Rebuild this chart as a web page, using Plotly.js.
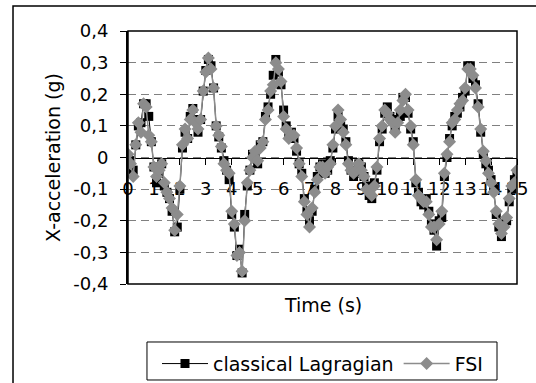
<!DOCTYPE html>
<html>
<head>
<meta charset="utf-8">
<script src="https://cdn.plot.ly/plotly-3.0.1.min.js"></script>
<style>
  html, body { margin: 0; padding: 0; background: #ffffff; }
  #chart { width: 536px; height: 383px; }
</style>
</head>
<body>
<div id="chart"></div>
<script>
// Time (s)
var time = [
  0.0, 0.1, 0.2, 0.3, 0.4, 0.5, 0.6, 0.7, 0.8, 0.9,
  1.0, 1.1, 1.2, 1.3, 1.4, 1.5, 1.6, 1.7, 1.8, 1.9,
  2.0, 2.1, 2.2, 2.3, 2.4, 2.5, 2.6, 2.7, 2.8, 2.9,
  3.0, 3.1, 3.2, 3.3, 3.4, 3.5, 3.6, 3.7, 3.8, 3.9,
  4.0, 4.1, 4.2, 4.3, 4.4, 4.5, 4.6, 4.7, 4.8, 4.9,
  5.0, 5.1, 5.2, 5.3, 5.4, 5.5, 5.6, 5.7, 5.8, 5.9,
  6.0, 6.1, 6.2, 6.3, 6.4, 6.5, 6.6, 6.7, 6.8, 6.9,
  7.0, 7.1, 7.2, 7.3, 7.4, 7.5, 7.6, 7.7, 7.8, 7.9,
  8.0, 8.1, 8.2, 8.3, 8.4, 8.5, 8.6, 8.7, 8.8, 8.9,
  9.0, 9.1, 9.2, 9.3, 9.4, 9.5, 9.6, 9.7, 9.8, 9.9,
  10.0, 10.1, 10.2, 10.3, 10.4, 10.5, 10.6, 10.7, 10.8, 10.9,
  11.0, 11.1, 11.2, 11.3, 11.4, 11.5, 11.6, 11.7, 11.8, 11.9,
  12.0, 12.1, 12.2, 12.3, 12.4, 12.5, 12.6, 12.7, 12.8, 12.9,
  13.0, 13.1, 13.2, 13.3, 13.4, 13.5, 13.6, 13.7, 13.8, 13.9,
  14.0, 14.1, 14.2, 14.3, 14.4, 14.5, 14.6, 14.7, 14.8, 14.9,
  15.0
];

// X-acceleration (g), classical Lagragian
var classical = [
  0.00, -0.01, -0.04, 0.04, 0.10, 0.11, 0.17, 0.17, 0.13, 0.05,
  -0.03, -0.08, -0.05, -0.02, -0.09, -0.11, -0.13, -0.17, -0.235, -0.22,
  -0.10, 0.03, 0.08, 0.06, 0.13, 0.155, 0.12, 0.08, 0.12, 0.21,
  0.275, 0.31, 0.29, 0.22, 0.10, 0.065, 0.03, -0.01, -0.04, -0.07,
  -0.18, -0.22, -0.31, -0.29, -0.365, -0.18, -0.09, -0.04, 0.01, 0.01,
  -0.02, 0.04, 0.05, 0.13, 0.16, 0.20, 0.26, 0.31, 0.27, 0.23,
  0.15, 0.10, 0.07, 0.08, 0.06, 0.02, -0.02, -0.05, -0.13, -0.17,
  -0.20, -0.17, -0.10, -0.06, -0.03, -0.02, -0.05, -0.04, -0.01, 0.03,
  0.09, 0.13, 0.10, 0.09, 0.05, -0.01, -0.04, -0.06, -0.05, -0.02,
  -0.03, -0.06, -0.09, -0.12, -0.13, -0.08, -0.04, 0.05, 0.09, 0.14,
  0.16, 0.13, 0.12, 0.09, 0.12, 0.13, 0.19, 0.19, 0.14, 0.09,
  0.05, -0.08, -0.11, -0.14, -0.15, -0.13, -0.17, -0.21, -0.23, -0.28,
  -0.20, -0.19, -0.06, 0.00, 0.06, 0.10, 0.13, 0.14, 0.16, 0.19,
  0.21, 0.29, 0.29, 0.25, 0.23, 0.17, 0.08, 0.01, -0.02, -0.04,
  -0.07, -0.10, -0.18, -0.22, -0.25, -0.21, -0.20, -0.14, -0.10, -0.07,
  -0.06
];

// X-acceleration (g), FSI
var fsi = [
  0.01, -0.02, -0.06, 0.04, 0.11, 0.08, 0.17, 0.16, 0.07, 0.05,
  -0.03, -0.06, -0.04, -0.02, -0.08, -0.11, -0.13, -0.16, -0.23, -0.18,
  -0.09, 0.04, 0.09, 0.06, 0.12, 0.15, 0.11, 0.09, 0.12, 0.21,
  0.27, 0.315, 0.28, 0.22, 0.10, 0.07, 0.035, -0.02, -0.04, -0.05,
  -0.17, -0.21, -0.31, -0.30, -0.36, -0.20, -0.08, -0.04, 0.00, 0.02,
  -0.01, 0.03, 0.05, 0.12, 0.15, 0.21, 0.23, 0.30, 0.28, 0.24,
  0.13, 0.09, 0.06, 0.07, 0.07, 0.03, -0.02, -0.06, -0.14, -0.18,
  -0.22, -0.16, -0.11, -0.07, -0.03, -0.03, -0.05, -0.03, -0.02, 0.04,
  0.10, 0.15, 0.12, 0.08, 0.04, -0.02, -0.04, -0.05, -0.04, -0.02,
  -0.04, -0.06, -0.10, -0.11, -0.12, -0.09, -0.03, 0.06, 0.10, 0.15,
  0.14, 0.12, 0.11, 0.08, 0.11, 0.15, 0.18, 0.20, 0.15, 0.10,
  0.04, -0.07, -0.12, -0.13, -0.14, -0.14, -0.18, -0.22, -0.22, -0.26,
  -0.21, -0.17, -0.05, 0.01, 0.05, 0.11, 0.12, 0.15, 0.17, 0.18,
  0.22, 0.28, 0.28, 0.26, 0.22, 0.16, 0.09, 0.02, -0.01, -0.05,
  -0.08, -0.11, -0.17, -0.21, -0.24, -0.22, -0.19, -0.13, -0.09, -0.08,
  -0.04
];

var xTickVals = [0, 1, 2, 3, 4, 5, 6, 7, 8, 9, 10, 11, 12, 13, 14, 15];
var yTickVals = [-0.4, -0.3, -0.2, -0.1, 0, 0.1, 0.2, 0.3, 0.4];
var yTickText = ['-0,4', '-0,3', '-0,2', '-0,1', '0', '0,1', '0,2', '0,3', '0,4'];

var FONT = 'DejaVu Sans, Liberation Sans, Arial, sans-serif';

var traces = [
  {
    x: time, y: classical, name: 'classical Lagragian',
    type: 'scatter', mode: 'lines+markers',
    line: { color: '#000000', width: 1 },
    marker: { symbol: 'square', size: 9, color: '#000000' }
  },
  {
    x: time, y: fsi, name: 'FSI',
    type: 'scatter', mode: 'lines+markers',
    line: { color: '#8c8c8c', width: 1.5 },
    marker: { symbol: 'diamond', size: 10, color: '#8c8c8c' }
  }
];

// plot area: x 128..517, y 31..284 (px)
var layout = {
  width: 536, height: 383,
  margin: { l: 128, r: 19, t: 31, b: 99, pad: 0, autoexpand: false },
  paper_bgcolor: '#ffffff', plot_bgcolor: '#ffffff',
  font: { family: FONT, size: 18, color: '#000000' },
  showlegend: true,
  xaxis: {
    range: [0, 15],
    tickvals: xTickVals,
    anchor: 'free', position: 0.5,
    showline: true, linecolor: '#000000', linewidth: 1,
    ticks: 'outside', ticklen: 6, tickcolor: '#000000', tickwidth: 1,
    ticklabelstandoff: 9,
    showgrid: false, zeroline: false,
    layer: 'below traces',
    automargin: false,
    tickfont: { family: FONT, size: 18, color: '#000000' },
    title: { text: '' }
  },
  yaxis: {
    range: [-0.4, 0.4],
    tickvals: yTickVals, ticktext: yTickText,
    showline: true, linecolor: '#000000', linewidth: 2,
    ticks: 'outside', ticklen: 6, tickcolor: '#000000', tickwidth: 1,
    ticklabelstandoff: 8,
    showgrid: true, gridcolor: '#808080', gridwidth: 1, griddash: '8px,5px',
    zeroline: false,
    layer: 'below traces',
    automargin: false,
    tickfont: { family: FONT, size: 18, color: '#000000' },
    title: { text: 'X-acceleration (g)', font: { family: FONT, size: 19 }, standoff: 8 }
  },
  legend: {
    orientation: 'h',
    x: 0.5, xanchor: 'center',
    y: -0.24, yanchor: 'top',
    bgcolor: 'rgba(0,0,0,0)', borderwidth: 0,
    font: { family: FONT, size: 19, color: '#000000' },
    itemwidth: 46
  },
  annotations: [
    {
      xref: 'paper', yref: 'paper', x: 0.5, y: -0.083,
      xanchor: 'center', yanchor: 'middle', showarrow: false,
      text: 'Time (s)', font: { family: FONT, size: 19, color: '#000000' }
    }
  ],
  shapes: [
    { type: 'rect', xref: 'paper', yref: 'paper', x0: 0, x1: 1, y0: 0, y1: 1,
      line: { color: '#000000', width: 1.5 }, layer: 'above' },
    { type: 'rect', xref: 'paper', yref: 'paper', x0: -0.2956, x1: 1.06, y0: -0.45, y1: 1.0988,
      line: { color: '#000000', width: 1.5 }, layer: 'below' },
    // legend frame: x 147..497, y 342..380 px
    { type: 'rect', xref: 'paper', yref: 'paper', x0: 0.0488, x1: 0.9486, y0: -0.3794, y1: -0.2292,
      line: { color: '#000000', width: 1 }, fillcolor: 'rgba(0,0,0,0)', layer: 'below' }
  ]
};

Plotly.newPlot('chart', traces, layout, { staticPlot: true, displayModeBar: false });
</script>
</body>
</html>
